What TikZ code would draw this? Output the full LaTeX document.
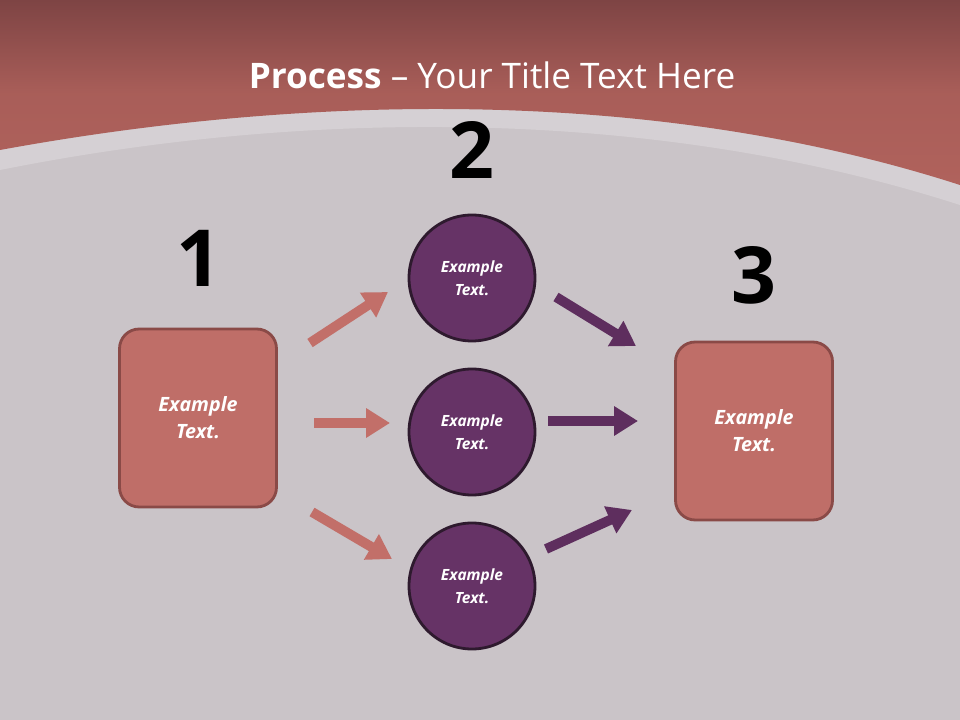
\documentclass[tikz,border=0pt]{standalone}
\usepackage{fontspec}
\setmainfont{Open Sans}
\usetikzlibrary{arrows.meta}
\definecolor{bg}{HTML}{CAC4C8}
\definecolor{band}{HTML}{B0625C}
\definecolor{bandtop}{HTML}{7E4444}
\definecolor{boxf}{HTML}{BF6E68}
\definecolor{boxd}{HTML}{8A4A47}
\definecolor{circf}{HTML}{663366}
\definecolor{circd}{HTML}{2E1A2E}
\definecolor{arrl}{HTML}{C26F69}
\definecolor{arrr}{HTML}{5E2E5E}
\tikzset{
 sq/.style={draw=boxd,line width=2pt,fill=boxf,rounded corners=14pt,minimum width=157*0.025cm,minimum height=178*0.025cm,text=white,font=\bfseries\itshape\fontsize{14}{19}\selectfont,align=center},
 circ/.style={circle,draw=circd,line width=2pt,fill=circf,minimum size=126*0.025cm,text=white,font=\bfseries\itshape\fontsize{11}{16}\selectfont,align=center},
 num/.style={font=\bfseries\fontsize{56}{60}\selectfont,text=black},
 la/.style={draw=arrl,line width=7pt,-{Triangle[length=17pt,width=20pt]}},
 ra/.style={draw=arrr,line width=7pt,-{Triangle[length=17pt,width=20pt]}}
}
\begin{document}
\begin{tikzpicture}[x=0.025cm,y=-0.025cm]
\useasboundingbox (0,0) rectangle (960,720);
\fill[bg] (0,0) rectangle (960,720);
\fill[white,opacity=0.22] (0,170) .. controls (300,110) and (650,105) .. (960,205) -- (960,160) .. controls (650,90) and (300,95) .. (0,140) -- cycle;
\shade[top color=bandtop,bottom color=band,middle color=band!85!bandtop] (0,0) -- (960,0) -- (960,185) .. controls (650,85) and (300,95) .. (0,150) -- cycle;
\node[text=white,font=\fontsize{25}{30}\selectfont] (title) at (492,75) {\textbf{Process} – Your Title Text Here};
\node[num] (n1) at (199,258) {1};
\node[num] (n2) at (472,150) {2};
\node[num] (n3) at (754,275) {3};
\node[sq] (b1) at (198,418) {Example\\Text.};
\node[sq] (b3) at (754,431) {Example\\Text.};
\node[circ] (c1) at (472,278) {Example\\Text.};
\node[circ] (c2) at (472,432) {Example\\Text.};
\node[circ] (c3) at (472,586) {Example\\Text.};
\coordinate (a1s) at (310,343); \coordinate (a1e) at (388,292);
\coordinate (a2s) at (314,423); \coordinate (a2e) at (390,423);
\coordinate (a3s) at (312,512); \coordinate (a3e) at (392,559);
\coordinate (b1s) at (556,297); \coordinate (b1e) at (636,346);
\coordinate (b2s) at (548,421); \coordinate (b2e) at (638,421);
\coordinate (b3s) at (546,549); \coordinate (b3e) at (632,510);
\draw[la] (a1s) -- (a1e);
\draw[la] (a2s) -- (a2e);
\draw[la] (a3s) -- (a3e);
\draw[ra] (b1s) -- (b1e);
\draw[ra] (b2s) -- (b2e);
\draw[ra] (b3s) -- (b3e);
\end{tikzpicture}
\end{document}
